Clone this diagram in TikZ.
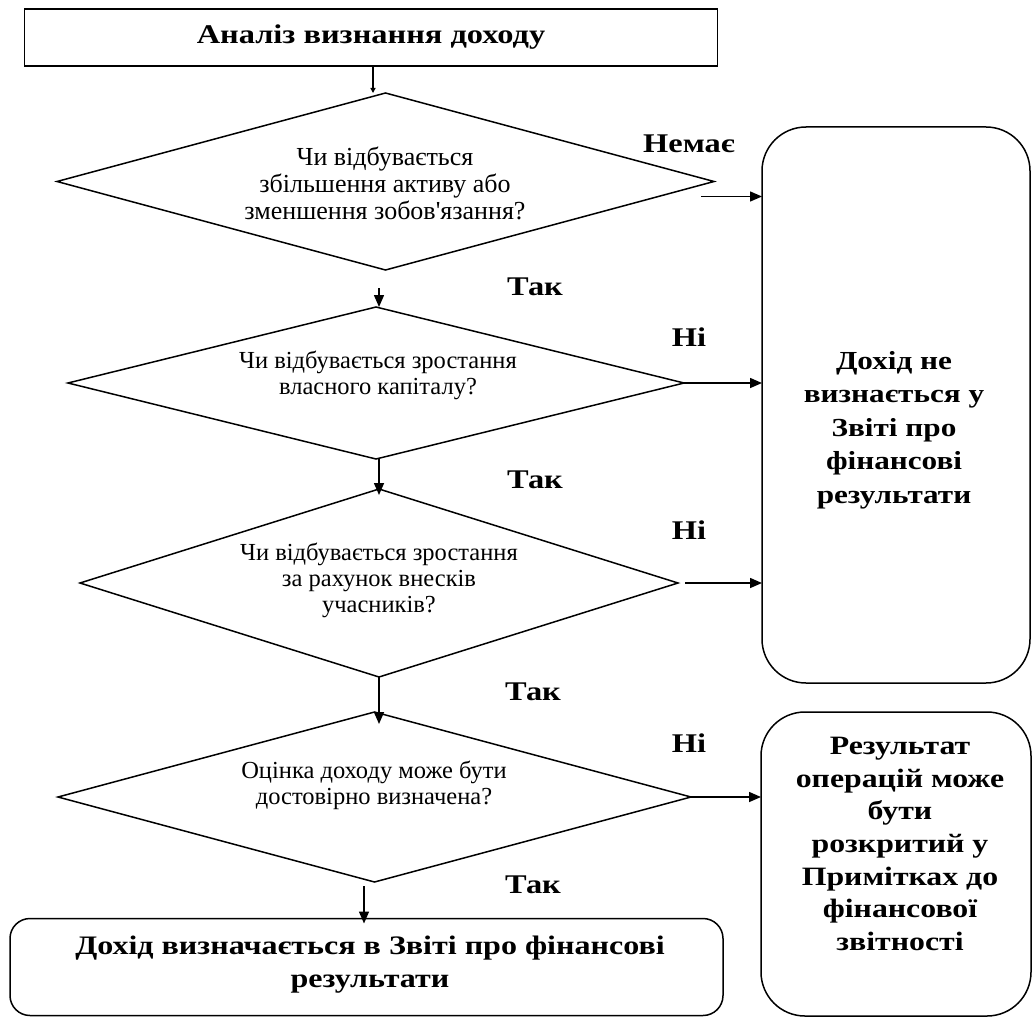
\documentclass[tikz,border=0pt]{standalone}
\usepackage{fontspec}
\setmainfont{Liberation Serif}[Ligatures=TeXOff]
\newfontfamily\widefont{Liberation Serif}[Ligatures=TeXOff,FakeStretch=1.2]
\usetikzlibrary{shapes.geometric,arrows.meta}
\begin{document}
\begin{tikzpicture}[x=1pt,y=-1pt,
  every node/.style={inner sep=0pt,outer sep=0pt},
  box/.style={draw,line width=1.5pt},
  rbox/.style={draw,line width=1.5pt,rounded corners=44pt},
  dia/.style={draw,line width=1.5pt,shape=diamond,shape aspect=4},
  diatext/.style={align=center,font=\fontsize{24.5}{26}\selectfont},
  lbl/.style={font=\widefont\fontsize{27}{30}\selectfont\bfseries},
  bigt/.style={align=center},
  arr/.style={line width=1.5pt,-{Triangle[length=12pt,width=10pt]}}
]
\useasboundingbox (0,0) rectangle (1032,1019);

\node[box,minimum width=693pt,minimum height=57pt,font=\widefont\fontsize{27}{32}\selectfont\bfseries]
  (title) at (371,37.5) {Аналіз визнання доходу};

% decisions
\node[dia,minimum width=657pt,minimum height=177pt] (d1) at (385.5,181.5) {};
\node[diatext,font=\fontsize{26}{27}\selectfont] (d1t) at (385,183)
  {Чи відбувається\\збільшення активу або\\зменшення зобов'язання?};
\node[dia,minimum width=616pt,minimum height=152pt] (d2) at (376,383) {};
\node[diatext] (d2t) at (378,375)
  {Чи відбувається зростання\\власного капіталу?};
\node[dia,minimum width=598pt,minimum height=188pt] (d3) at (379,583) {};
\node[diatext] (d3t) at (379,580)
  {Чи відбувається зростання\\за рахунок внесків\\учасників?};
\node[dia,minimum width=633pt,minimum height=170pt] (d4) at (374.5,797) {};
\node[diatext] (d4t) at (374,785)
  {Оцінка доходу може бути\\достовірно визначена?};

% outcome boxes
\node[rbox,minimum width=268pt,minimum height=556pt] (r1) at (896,405) {};
\node[bigt,font=\widefont\fontsize{26}{33.5}\selectfont\bfseries] (r1t) at (894,430)
  {Дохід не\\визнається у\\Звіті про\\фінансові\\результати};

\node[rbox,minimum width=270pt,minimum height=304pt] (r2) at (896,864) {};
\node[bigt,font=\widefont\fontsize{26.5}{32.6}\selectfont\bfseries] (r2t) at (900,844)
  {Результат\\операцій може\\бути\\розкритий у\\Примітках до\\фінансової\\звітності};

\node[rbox,rounded corners=20pt,minimum width=713pt,minimum height=97pt] (fin) at (366.5,967) {};
\node[bigt,font=\widefont\fontsize{26.7}{33}\selectfont\bfseries] (fint) at (370,965)
  {Дохід визначається в Звіті про фінансові\\результати};

% branch labels
\node[lbl] (l1) at (689,144) {Немає};
\node[lbl] (y1) at (535,287) {Так};
\node[lbl] (n2) at (689,337) {Ні};
\node[lbl] (y2) at (535,480) {Так};
\node[lbl] (n3) at (689,530) {Ні};
\node[lbl] (y3) at (533,692) {Так};
\node[lbl] (n4) at (689,743) {Ні};
\node[lbl] (y4) at (533,885) {Так};

% vertical connectors
\draw[line width=1.5pt,-{Triangle[length=5pt,width=5pt]}] ([xshift=2pt]title.south) -- ([xshift=2pt]title.south |- d1.north);
\draw[arr] ([shift={(-6.5pt,-18pt)}]d1.south) -- ([xshift=-6.5pt]d1.south |- d2.north);
\draw[arr] ([xshift=3pt]d2.south) -- ([xshift=3pt,yshift=-6pt]d2.south |- d3.north);
\draw[arr] (d3.south) -- ([yshift=-12pt]d3.south |- d4.north);
\draw[arr] ([xshift=-10.5pt,yshift=-4pt]d4.south) -- ([xshift=-10.5pt,yshift=-5pt]d4.south |- fin.north);

% horizontal connectors
\draw[arr] ([shift={(-13pt,-15pt)}]d1.east) -- ([yshift=-15pt]d1.east -| r1.west);
\draw[arr] (d2.east) -- (d2.east -| r1.west);
\draw[arr] ([xshift=7pt]d3.east) -- (d3.east -| r1.west);
\draw[arr] (d4.east) -- (d4.east -| r2.west);
\end{tikzpicture}
\end{document}
